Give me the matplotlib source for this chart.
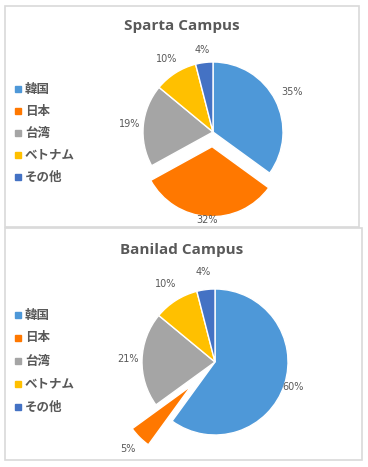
import numpy as np
import matplotlib
matplotlib.use("Agg")
import matplotlib.pyplot as plt
from matplotlib.patches import Rectangle

plt.rcParams['font.family'] = ['Noto Sans CJK JP', 'DejaVu Sans']

categories = ['韓国', '日本', '台湾', 'ベトナム', 'その他']
sparta_values = [35, 32, 19, 10, 4]
banilad_values = [60, 5, 21, 10, 4]
titles = ['Sparta Campus', 'Banilad Campus']
colors = ['#4E98D8', '#FF7800', '#A5A5A5', '#FFC000', '#4472C4']
text_color = '#595959'

W, H = 368, 467
fig = plt.figure(figsize=(W / 100, H / 100), dpi=100)
fig.patch.set_facecolor('white')


def fx(x):
    return x / W


def fy(y):
    return 1 - y / H


# panel frames (pixel boxes)
panels = [(5, 6, 359, 227), (5, 228, 362, 460)]
for (x0, y0, x1, y1) in panels:
    fig.patches.append(Rectangle((fx(x0), fy(y1)), (x1 - x0) / W, (y1 - y0) / H,
                                 transform=fig.transFigure, fill=False,
                                 edgecolor='#D9D9D9', linewidth=1.2))

configs = [
    dict(values=sparta_values, title=titles[0], center=(213, 132), r=70,
         explode=[0, 0.21, 0, 0, 0], dist=[1.27, 1.05, 1.2, 1.24, 1.18],
         title_y=26, legend_y=89, spacing=22.0),
    dict(values=banilad_values, title=titles[1], center=(215, 362), r=73,
         explode=[0, 0.46, 0, 0, 0], dist=[1.12, 1.22, 1.19, 1.27, 1.24],
         title_y=250, legend_y=315, spacing=23.0),
]

for cfg in configs:
    cx, cy = cfg['center']
    r = cfg['r']
    S = 125
    ax = fig.add_axes([fx(cx - S), fy(cy + S), 2 * S / W, 2 * S / H])
    wedges, _ = ax.pie(cfg['values'], colors=colors, startangle=90,
                       counterclock=False, explode=cfg['explode'],
                       wedgeprops=dict(edgecolor='white', linewidth=1.0))
    total = sum(cfg['values'])
    for w, v, d in zip(wedges, cfg['values'], cfg['dist']):
        ang = np.deg2rad((w.theta1 + w.theta2) / 2)
        px, py = w.center
        ax.text(px + d * np.cos(ang), py + d * np.sin(ang),
                f"{round(100 * v / total)}%", ha='center', va='center',
                fontsize=7, color=text_color, family=['DejaVu Sans'])
    ax.set_xlim(-S / r, S / r)
    ax.set_ylim(-S / r, S / r)
    ax.axis('off')

    fig.text(fx(182), fy(cfg['title_y']), cfg['title'], ha='center', va='center',
             fontsize=11, fontweight='bold', color=text_color,
             family=['Open Sans', 'DejaVu Sans'])

    for i, (cat, col) in enumerate(zip(categories, colors)):
        yy = cfg['legend_y'] + i * cfg['spacing']
        fig.patches.append(Rectangle((fx(15), fy(yy + 3)), 6 / W, 6 / H,
                                     transform=fig.transFigure, color=col))
        fig.text(fx(25), fy(yy), cat, ha='left', va='center', fontsize=9,
                 fontweight='bold', color=text_color)

fig.savefig('out.png', dpi=100)
